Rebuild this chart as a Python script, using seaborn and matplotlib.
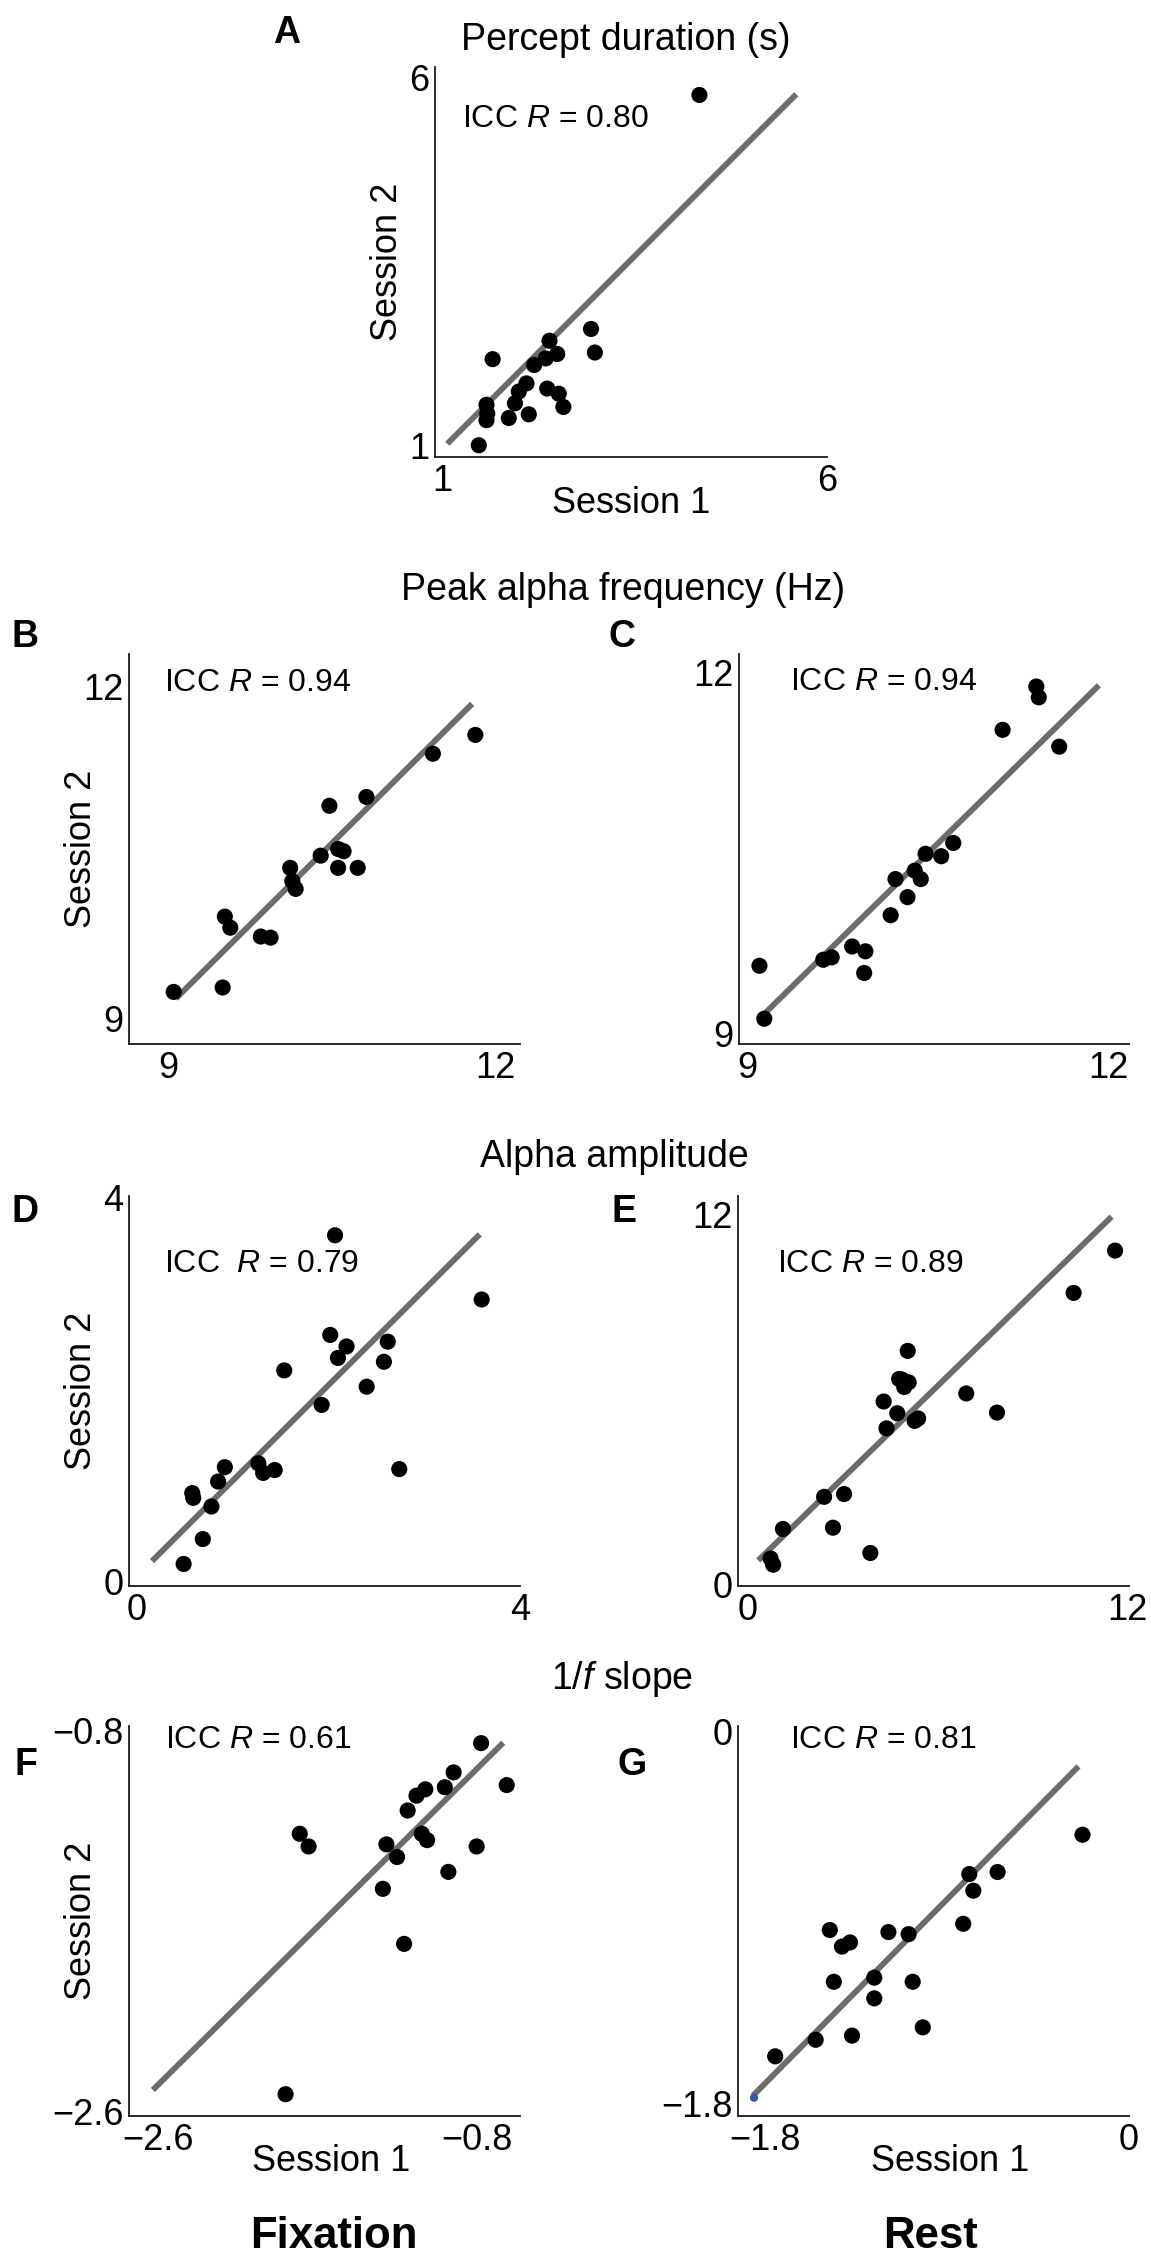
import numpy as np
import pandas as pd
import matplotlib
matplotlib.use("Agg")
import matplotlib.pyplot as plt
import seaborn as sns

# ---------------- data ----------------
# Panel A: percept duration (s)
a_s1 = [4.34, 2.93, 2.98, 2.39, 2.49, 2.34, 2.19, 1.65, 2.09, 1.99, 1.94, 2.36, 2.51, 2.57, 2.12, 1.86, 1.57, 1.58, 1.57, 1.47]
a_s2 = [5.76, 2.58, 2.26, 2.42, 2.24, 2.18, 2.09, 2.17, 1.84, 1.73, 1.57, 1.77, 1.70, 1.52, 1.42, 1.37, 1.55, 1.43, 1.34, 1.00]
a_fit_s1 = [1.06, 5.60]
a_fit_s2 = [1.02, 5.77]
a_ticks = [1, 6]
a_ticklabels = ["1", "6"]

# Panel B: peak alpha frequency, fixation
b_s1 = [9.05, 9.50, 9.52, 9.57, 9.85, 9.94, 10.12, 10.14, 10.17, 10.40, 10.48, 10.56, 10.61, 10.56, 10.74, 10.82, 11.43, 11.82]
b_s2 = [9.24, 9.28, 9.92, 9.82, 9.74, 9.73, 10.36, 10.24, 10.17, 10.47, 10.92, 10.53, 10.51, 10.36, 10.36, 11.00, 11.39, 11.56]
b_fit_s1 = [9.07, 11.79]
b_fit_s2 = [9.18, 11.84]
pf_ticks = [9, 12]
pf_ticklabels = ["9", "12"]

# Panel C: peak alpha frequency, rest
c_s1 = [9.10, 9.14, 9.63, 9.70, 9.87, 9.98, 9.97, 10.19, 10.33, 10.23, 10.39, 10.44, 10.48, 10.61, 10.71, 11.12, 11.40, 11.42, 11.59]
c_s2 = [9.56, 9.12, 9.61, 9.63, 9.72, 9.68, 9.50, 9.98, 10.13, 10.28, 10.35, 10.28, 10.49, 10.47, 10.58, 11.52, 11.88, 11.79, 11.38]
c_fit_s1 = [9.14, 11.92]
c_fit_s2 = [9.16, 11.89]

# Panel D: alpha amplitude, fixation
d_s1 = [2.07, 3.60, 2.02, 2.19, 2.10, 2.62, 2.58, 1.54, 2.40, 1.93, 0.92, 0.85, 1.27, 1.32, 1.44, 2.74, 0.58, 0.59, 0.78, 0.69, 0.49]
d_s2 = [3.61, 2.94, 2.57, 2.45, 2.33, 2.50, 2.29, 2.20, 2.03, 1.84, 1.19, 1.04, 1.23, 1.13, 1.16, 1.17, 0.92, 0.87, 0.78, 0.44, 0.18]
d_fit_s1 = [0.16, 3.58]
d_fit_s2 = [0.21, 3.62]
d_ticks = [0, 4]
d_ticklabels = ["0", "4"]

# Panel E: alpha amplitude, rest
e_s1 = [11.61, 10.30, 5.06, 4.79, 4.95, 5.09, 4.88, 4.30, 4.73, 4.39, 5.28, 5.39, 6.91, 7.88, 2.42, 3.05, 1.12, 2.70, 3.88, 0.73, 0.81]
e_s2 = [10.82, 9.45, 7.57, 6.66, 6.40, 6.55, 6.64, 5.93, 5.55, 5.06, 5.30, 5.38, 6.19, 5.57, 2.84, 2.93, 1.80, 1.84, 1.02, 0.84, 0.64]
e_fit_s1 = [0.34, 11.50]
e_fit_s2 = [0.78, 11.92]
e_ticks = [0, 12]
e_ticklabels = ["0", "12"]

# Panel F: 1/f slope, fixation
f_s1 = [-0.775, -0.63, -0.93, -0.98, -1.09, -1.14, -1.19, -1.80, -1.75, -1.31, -1.25, -1.11, -1.08, -0.80, -0.96, -1.33, -1.21, -1.88]
f_s2 = [-0.862, -1.06, -1.00, -1.07, -1.08, -1.11, -1.18, -1.29, -1.35, -1.34, -1.40, -1.29, -1.32, -1.35, -1.47, -1.55, -1.81, -2.52]
f_fit_s1 = [-2.63, -0.65]
f_fit_s2 = [-2.50, -0.86]
f_ticks = [-2.6, -0.8]
f_ticklabels = ["\u22122.6", "\u22120.8"]

# Panel G: 1/f slope, rest
g_s1 = [-0.23, -0.79, -0.65, -0.77, -0.82, -1.48, -1.42, -1.38, -1.19, -1.09, -1.46, -1.26, -1.07, -1.26, -1.02, -1.55, -1.37, -1.75]
g_s2 = [-0.50, -0.69, -0.68, -0.77, -0.93, -0.96, -1.04, -1.02, -0.97, -0.98, -1.21, -1.19, -1.21, -1.29, -1.43, -1.49, -1.47, -1.57]
g_fit_s1 = [-1.86, -0.25]
g_fit_s2 = [-1.76, -0.17]
g_extra_s1 = [-1.855]
g_extra_s2 = [-1.77]
g_xticks = [-1.8, 0]
g_xticklabels = ["\u22121.8", "0"]
g_yticks = [-1.8, 0]
g_yticklabels = ["\u22121.8", "0"]

icc_labels = ["ICC $R$ = 0.80", "ICC $R$ = 0.94", "ICC $R$ = 0.94", "ICC  $R$ = 0.79",
              "ICC $R$ = 0.89", "ICC $R$ = 0.61", "ICC $R$ = 0.81"]
row_titles = ["Percept duration (s)", "Peak alpha frequency (Hz)", "Alpha amplitude", "1/$f$ slope"]
column_titles = ["Fixation", "Rest"]
panel_letters = ["A", "B", "C", "D", "E", "F", "G"]

# ---------------- style ----------------
sns.set_style("white")
plt.rcParams["font.family"] = ["Liberation Sans", "DejaVu Sans"]
plt.rcParams["mathtext.fontset"] = "custom"
plt.rcParams["mathtext.rm"] = "Liberation Sans"
plt.rcParams["mathtext.it"] = "Liberation Sans:italic"
for k in ["text.color", "axes.labelcolor", "xtick.color", "ytick.color"]:
    plt.rcParams[k] = "black"

W, H = 1151, 2258
fig = plt.figure(figsize=(W / 100, H / 100), dpi=100)

TICK_FS = 26
LABEL_FS = 26
ICC_FS = 23
TITLE_FS = 27
LETTER_FS = 27
COL_FS = 31.5
DOT = "black"
LINE = "#6e6b6b"


def ax_at(l, t, w, h):
    return fig.add_axes([l / W, 1 - (t + h) / H, w / W, h / H])


def panel(box, s1, s2, fs1, fs2, xlim, ylim, xt, xtl, yt, ytl, icc, icc_pos,
          xlabel=False, ylabel=False, xl_coords=(0.5, -0.05)):
    ax = ax_at(*box)
    sns.lineplot(x=fs1, y=fs2, ax=ax, color=LINE, lw=4.2, solid_capstyle="butt",
                 estimator=None, sort=False, zorder=1)
    sns.scatterplot(x=s1, y=s2, ax=ax, color=DOT, s=135, edgecolor="none", zorder=3,
                    clip_on=False)
    ax.set_xlim(*xlim)
    ax.set_ylim(*ylim)
    ax.set_xticks(xt)
    ax.set_xticklabels(xtl)
    ax.set_yticks(yt)
    ax.set_yticklabels(ytl)
    ax.tick_params(axis="both", length=0, labelsize=TICK_FS, colors="black")
    ax.tick_params(axis="x", pad=5)
    ax.tick_params(axis="y", pad=4)
    for sp in ["top", "right"]:
        ax.spines[sp].set_visible(False)
    for sp in ["left", "bottom"]:
        ax.spines[sp].set_linewidth(1.3)
        ax.spines[sp].set_color("#1a1a1a")
    ax.set_xlabel("")
    ax.set_ylabel("")
    if ylabel:
        ax.set_ylabel("Session 2", fontsize=LABEL_FS)
        ax.yaxis.set_label_coords(-0.077, 0.5)
    if xlabel:
        ax.set_xlabel("Session 1", fontsize=LABEL_FS)
        ax.xaxis.set_label_coords(*xl_coords)
    ax.text(icc_pos[0], icc_pos[1], icc, transform=ax.transAxes, ha="left", va="center",
            fontsize=ICC_FS)
    ax.grid(False)
    return ax


axA = panel((435, 67, 392, 390), a_s1, a_s2, a_fit_s1, a_fit_s2,
            (0.9, 6.0), (0.84, 6.14), a_ticks, a_ticklabels, a_ticks, a_ticklabels,
            icc_labels[0], (0.07, 0.867), xlabel=True, ylabel=True, xl_coords=(0.5, -0.075))
axB = panel((129, 654, 391, 390), b_s1, b_s2, b_fit_s1, b_fit_s2,
            (8.64, 12.23), (8.77, 12.29), pf_ticks, pf_ticklabels, pf_ticks, pf_ticklabels,
            icc_labels[1], (0.09, 0.925), ylabel=True)
axC = panel((739, 654, 390, 390), c_s1, c_s2, c_fit_s1, c_fit_s2,
            (8.93, 12.17), (8.91, 12.15), pf_ticks, pf_ticklabels, pf_ticks, pf_ticklabels,
            icc_labels[2], (0.132, 0.927))
axD = panel((129, 1196, 391, 390), d_s1, d_s2, d_fit_s1, d_fit_s2,
            (-0.08, 4.0), (-0.05, 4.02), d_ticks, d_ticklabels, d_ticks, d_ticklabels,
            icc_labels[3], (0.09, 0.825), ylabel=True)
axE = panel((738, 1196, 391, 390), e_s1, e_s2, e_fit_s1, e_fit_s2,
            (-0.3, 12.05), (-0.05, 12.59), e_ticks, e_ticklabels, e_ticks, e_ticklabels,
            icc_labels[4], (0.10, 0.825))
axF = panel((129, 1726, 391, 390), f_s1, f_s2, f_fit_s1, f_fit_s2,
            (-2.765, -0.555), (-2.623, -0.781), f_ticks, f_ticklabels, f_ticks, f_ticklabels,
            icc_labels[5], (0.092, 0.963), xlabel=True, ylabel=True, xl_coords=(0.517, -0.072))
axG = panel((738, 1726, 391, 390), g_s1, g_s2, g_fit_s1, g_fit_s2,
            (-1.934, 0.0), (-1.858, 0.025), g_xticks, g_xticklabels, g_yticks, g_yticklabels,
            icc_labels[6], (0.134, 0.965), xlabel=True, xl_coords=(0.542, -0.072))
sns.scatterplot(x=g_extra_s1, y=g_extra_s2, ax=axG, color="#2a5caa", s=35,
                edgecolor="none", zorder=4, clip_on=False)

# row titles
for (cx, cy), t in zip([(626, 40), (623, 590), (614, 1157), (622, 1679)], row_titles):
    fig.text(cx / W, 1 - cy / H, t, ha="center", va="center", fontsize=TITLE_FS)

# panel letters
for (cx, cy), t in zip([(287, 33), (25, 637), (622, 637), (25, 1212), (624, 1212),
                        (26, 1765), (632, 1765)], panel_letters):
    fig.text(cx / W, 1 - cy / H, t, ha="center", va="center", fontsize=LETTER_FS,
             fontweight="bold")

# column titles
for (cx, cy), t in zip([(334, 2237), (931, 2237)], column_titles):
    fig.text(cx / W, 1 - cy / H, t, ha="center", va="center", fontsize=COL_FS,
             fontweight="bold")

fig.savefig("out.png", dpi=100, facecolor="white")
